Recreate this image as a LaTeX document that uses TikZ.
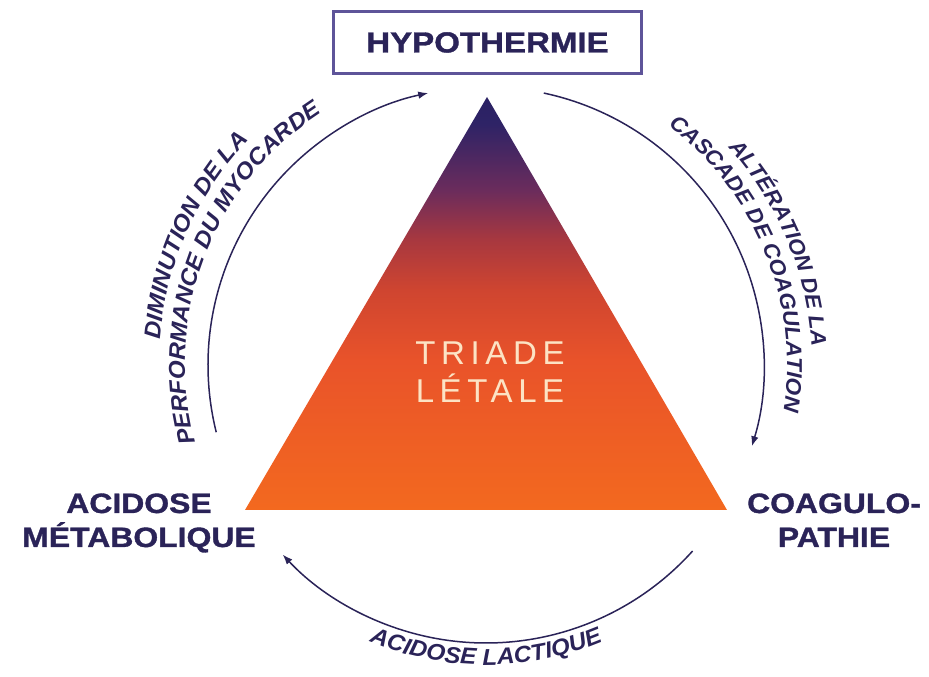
\documentclass[tikz,border=0pt]{standalone}
\usepackage{fontspec}
\setmainfont{Liberation Sans}
\newfontfamily\heavyfont{Liberation Sans Bold}[FakeStretch=1.14, FakeBold=1.2]
\newfontfamily\curvefont{Liberation Sans}[FakeStretch=1.05]
\newfontfamily\lightfont{Liberation Sans}[LetterSpace=17]
\usetikzlibrary{decorations.text,arrows.meta}

\definecolor{navy}{HTML}{2A2358}
\definecolor{boxline}{HTML}{5E5499}
\definecolor{cream}{HTML}{FCE3C4}
\definecolor{triA}{HTML}{F3691F}
\definecolor{triB}{HTML}{E9532A}
\definecolor{triC}{HTML}{CF4530}
\definecolor{triD}{HTML}{A8383F}
\definecolor{triE}{HTML}{6B2C5C}
\definecolor{triF}{HTML}{2E2366}
\definecolor{triG}{HTML}{2A2163}

\pgfdeclareverticalshading{triade}{100bp}{color(0bp)=(triA); color(25bp)=(triA); color(43bp)=(triB); color(51.6bp)=(triC); color(57.7bp)=(triD); color(63.7bp)=(triE); color(71.8bp)=(triF); color(75bp)=(triG); color(100bp)=(triG)}

\tikzset{
	corner/.style={text=navy, font=\heavyfont\fontsize{28bp}{34bp}\selectfont, align=center, anchor=base},
	arclabel/.style 2 args={decorate, decoration={text along path, text align=center, text color=navy, text={|\curvefont\bfseries\itshape\fontsize{#1bp}{22bp}\selectfont|#2}}},
	cyc/.style={draw=navy, line width=1.5bp, -{Latex[length=10bp,width=7.5bp]}}
}

\begin{document}
\begin{tikzpicture}[x=1bp,y=1bp]
		\useasboundingbox (0,0) rectangle (929,677);
		
		% triangle
		\coordinate (ta) at (487,580);
		\coordinate (tl) at (245,167);
		\coordinate (tr) at (727,167);
		\shade[shading=triade] (tl) -- (ta) -- (tr) -- cycle;
		\node (triade) [text=cream, font=\lightfont\fontsize{33bp}{38bp}\selectfont, align=center, anchor=base] at (490,274) {TRIADE\\LÉTALE};
		
		% corners
		\node (hypo) [draw=boxline, line width=2.5bp, minimum width=308bp, minimum height=62bp, text=navy, font=\heavyfont\fontsize{29bp}{34bp}\selectfont] at (487.5,634.5) {HYPOTHERMIE};
		\node (acid) [corner] at (139,130) {ACIDOSE\\MÉTABOLIQUE};
		\node (coag) [corner] at (834,130) {COAGULO-\\PATHIE};
		
		% cycle
		\coordinate (c) at (486,312);
		\path (c) ++(194:278) coordinate (a1);
		\path (c) ++(78:278) coordinate (a2);
		\path (c) ++(-42:278) coordinate (a3);
		\draw[cyc] (a1) arc[start angle=194, end angle=102, radius=278];
		\draw[cyc] (a2) arc[start angle=78, end angle=-17, radius=278];
		\draw[cyc] (a3) arc[start angle=-42, end angle=-137, radius=278];
		
		\path[arclabel={23}{DIMINUTION DE LA}] (c) ++(201:327) arc[start angle=201, end angle=111, radius=327];
		\path[arclabel={23}{PERFORMANCE DU MYOCARDE}] (c) ++(204:301) arc[start angle=204, end angle=114, radius=301];
		\path[arclabel={21.5}{ALTÉRATION DE LA}] (c) ++(67.6:326) arc[start angle=67.6, end angle=-22.4, radius=326];
		\path[arclabel={21.5}{CASCADE DE COAGULATION}] (c) ++(67:301) arc[start angle=67, end angle=-23, radius=301];
		\path[arclabel={23}{ACIDOSE LACTIQUE}] (c) ++(-135:300) arc[start angle=-135, end angle=-45, radius=300];
	\end{tikzpicture}
\end{document}
